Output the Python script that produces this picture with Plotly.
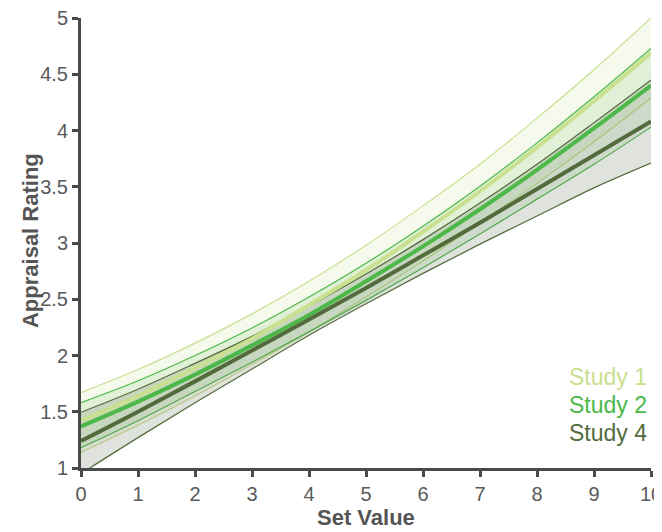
import plotly.graph_objects as go

set_value = [0, 1, 2, 3, 4, 5, 6, 7, 8, 9, 10]

study1_mean  = [1.42, 1.64, 1.89, 2.15, 2.45, 2.76, 3.10, 3.46, 3.85, 4.26, 4.69]
study1_upper = [1.67, 1.875, 2.11, 2.37, 2.66, 2.98, 3.33, 3.70, 4.11, 4.54, 5.00]
study1_lower = [1.14, 1.38, 1.64, 1.92, 2.21, 2.52, 2.84, 3.18, 3.53, 3.90, 4.29]

study2_mean  = [1.37, 1.59, 1.83, 2.09, 2.36, 2.66, 2.97, 3.30, 3.65, 4.02, 4.40]
study2_upper = [1.58, 1.775, 2.00, 2.245, 2.52, 2.82, 3.15, 3.505, 3.89, 4.30, 4.73]
study2_lower = [1.18, 1.42, 1.68, 1.94, 2.21, 2.49, 2.78, 3.08, 3.39, 3.70, 4.03]

study4_mean  = [1.24, 1.50, 1.77, 2.045, 2.32, 2.60, 2.89, 3.18, 3.48, 3.78, 4.08]
study4_upper = [1.495, 1.70, 1.93, 2.17, 2.44, 2.725, 3.03, 3.355, 3.70, 4.07, 4.45]
study4_lower = [0.95, 1.27, 1.58, 1.88, 2.18, 2.46, 2.73, 2.99, 3.24, 3.49, 3.71]

x_ticks = [0, 1, 2, 3, 4, 5, 6, 7, 8, 9, 10]
y_ticks = [1, 1.5, 2, 2.5, 3, 3.5, 4, 4.5, 5]
y_tick_labels = ["1", "1.5", "2", "2.5", "3", "3.5", "4", "4.5", "5"]

studies = [
    ("Study 1", study1_mean, study1_upper, study1_lower, "#c9e08f", "rgba(201,224,143,0.16)"),
    ("Study 2", study2_mean, study2_upper, study2_lower, "#4cb848", "rgba(76,184,72,0.13)"),
    ("Study 4", study4_mean, study4_upper, study4_lower, "#536b3c", "rgba(100,112,92,0.20)"),
]

fig = go.Figure()

for name, mean, upper, lower, col, fillcol in studies:
    fig.add_trace(go.Scatter(x=set_value, y=lower, mode="lines",
                             line=dict(color=col, width=1.2, shape="spline"),
                             showlegend=False, hoverinfo="skip"))
    fig.add_trace(go.Scatter(x=set_value, y=upper, mode="lines",
                             line=dict(color=col, width=1.2, shape="spline"),
                             fill="tonexty", fillcolor=fillcol,
                             showlegend=False, hoverinfo="skip"))

for name, mean, upper, lower, col, fillcol in studies:
    fig.add_trace(go.Scatter(x=set_value, y=mean, mode="lines", name=name,
                             line=dict(color=col, width=4, shape="spline"),
                             showlegend=False))

axis_col = "#4a4a4a"
font_family = "Liberation Sans, Arial, sans-serif"
tick_font = dict(family=font_family, size=20, color="#5a5a5a")
title_font = dict(family=font_family, size=22, color="#555555")

fig.update_xaxes(range=[0, 10], tickmode="array", tickvals=x_ticks,
                 showline=True, linecolor=axis_col, linewidth=3,
                 ticks="outside", ticklen=6, tickwidth=3, tickcolor=axis_col,
                 showgrid=False, zeroline=False, tickfont=tick_font,
                 automargin=False, ticklabeloverflow="allow")
fig.update_yaxes(range=[1, 5], tickmode="array",
                 tickvals=y_ticks, ticktext=y_tick_labels,
                 showline=True, linecolor=axis_col, linewidth=3,
                 ticks="outside", ticklen=6, tickwidth=3, tickcolor=axis_col,
                 showgrid=False, zeroline=False, tickfont=tick_font,
                 automargin=False, ticklabeloverflow="allow")

# axis titles
fig.add_annotation(x=0.5, y=-0.111, xref="paper", yref="paper",
                   text="<b>Set Value</b>", showarrow=False,
                   xanchor="center", yanchor="middle", font=title_font)
fig.add_annotation(x=-0.089, y=0.505, xref="paper", yref="paper",
                   text="<b>Appraisal Rating</b>", showarrow=False, textangle=-90,
                   xanchor="center", yanchor="middle", font=title_font)

legend_y = [0.202, 0.14, 0.078]
for (name, mean, upper, lower, col, fillcol), yy in zip(studies, legend_y):
    fig.add_annotation(x=0.853, y=yy, xref="paper", yref="paper", text=name,
                       showarrow=False, xanchor="left", yanchor="middle",
                       font=dict(family=font_family, size=23, color=col))

# page body has an 8px default margin, so the figure is offset by 8px
fig.update_layout(width=654, height=524,
                  margin=dict(l=73, r=11, t=10, b=64, autoexpand=False),
                  plot_bgcolor="white", paper_bgcolor="white",
                  showlegend=False)

fig.write_html("out.html")
